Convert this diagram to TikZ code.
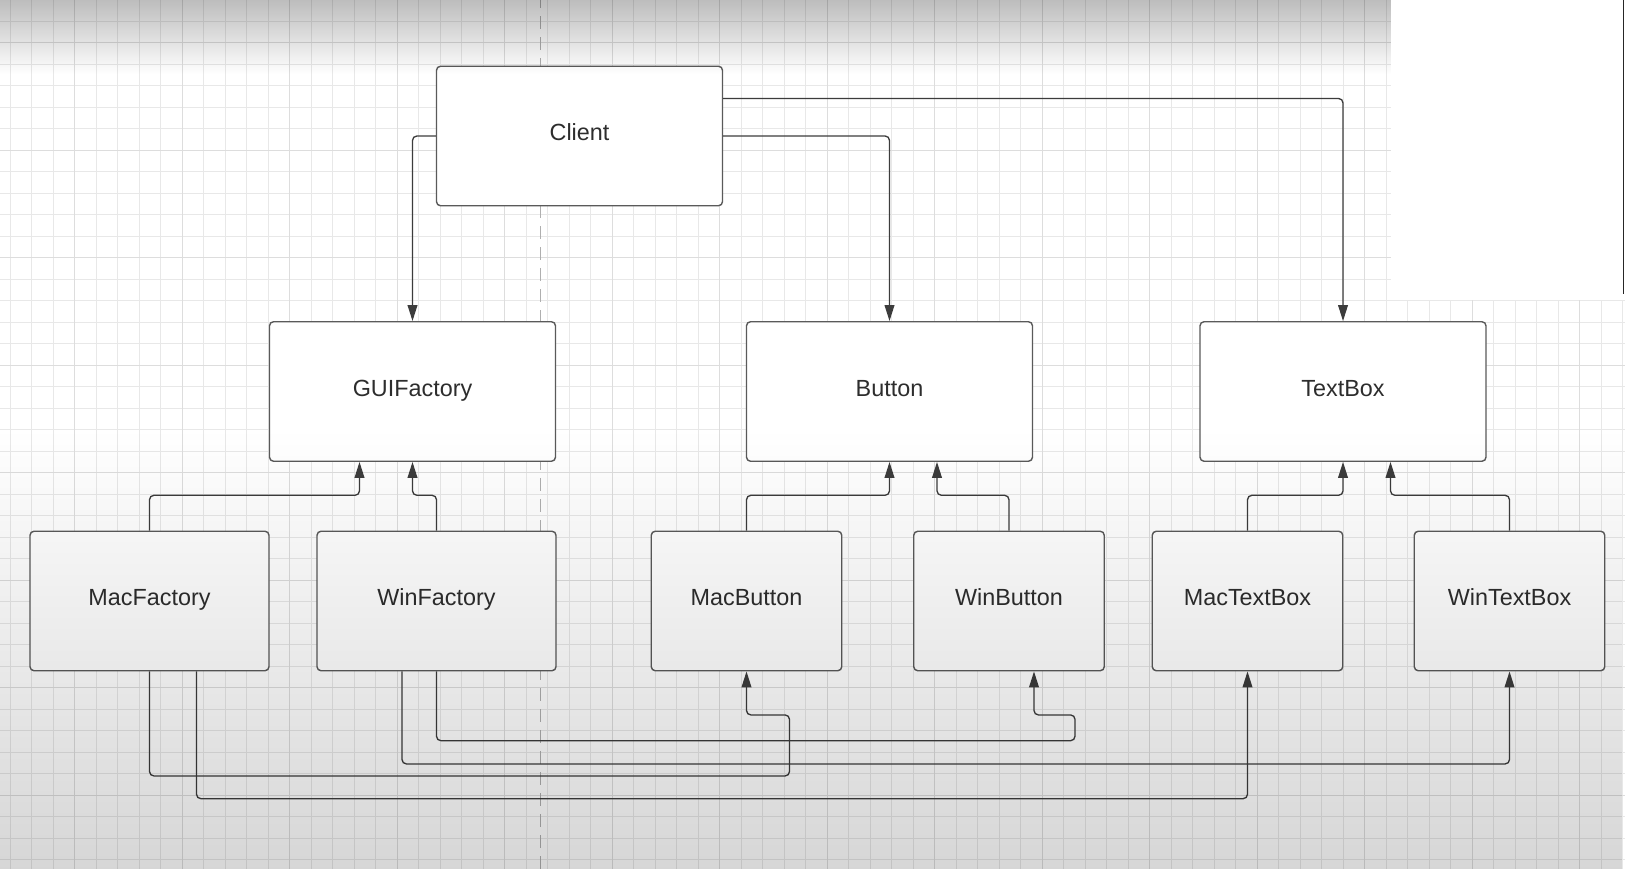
\documentclass[tikz,border=0pt]{standalone}
\usepackage{fontspec}
\setmainfont{Liberation Sans}
\usetikzlibrary{arrows.meta,fadings}

\definecolor{linegray}{RGB}{60,60,60}
\definecolor{boxgray}{RGB}{90,90,90}
\definecolor{textgray}{RGB}{45,45,45}
\definecolor{minorgray}{RGB}{232,232,232}
\definecolor{majorgray}{RGB}{221,221,221}
\definecolor{guidegray}{RGB}{175,175,175}

\tikzfading[name=topfade, top color=transparent!74, bottom color=transparent!100]
\tikzfading[name=botfade, top color=transparent!100, bottom color=transparent!84]

\begin{document}
\begin{tikzpicture}[cls/.style={draw=boxgray,fill=white,line width=0.8pt,rounded corners=2.3pt,inner sep=0pt,minimum height=2.79cm,text=textgray,text height=0.73em,text depth=0.21em,font=\fontsize{13.3}{16}\selectfont},
    wide/.style={cls,minimum width=5.72cm},
    mid/.style={cls,minimum width=4.78cm},
    small/.style={cls,minimum width=3.81cm},
    conn/.style={draw=linegray,line width=0.75pt,rounded corners=2.5pt,-{Triangle[length=9pt,width=5.5pt]}}]
        \useasboundingbox (0,0) rectangle (32.5,17.38);
        \fill[white] (0,0) rectangle (32.5,17.38);
        \draw[minorgray,line width=0.5pt,shift={(0.2,0.19)}] (-0.2,-0.19) grid[step=0.43] (32.3,17.19);
        \draw[majorgray,line width=0.5pt,shift={(1.49,16.53)}] (-1.49,-16.53) grid[step=2.15] (31.01,0.85);
        \draw[guidegray,line width=0.8pt,dash pattern=on 0.26cm off 0.16cm] (10.81,0) -- (10.81,17.38);
        \node[wide] (client) at (11.59,14.66) {Client};
        \node[wide] (guif) at (8.25,9.55) {GUIFactory};
        \node[wide] (butt) at (17.79,9.55) {Button};
        \node[wide] (tbox) at (26.86,9.55) {TextBox};
        \node[mid] (macf) at (2.99,5.36) {MacFactory};
        \node[mid] (winf) at (8.73,5.36) {WinFactory};
        \node[small] (macb) at (14.93,5.36) {MacButton};
        \node[small] (winb) at (20.18,5.36) {WinButton};
        \node[small] (mact) at (24.95,5.36) {MacTextBox};
        \node[small] (wint) at (30.19,5.36) {WinTextBox};
        \draw[conn] (client.west) -| (guif.north);
        \draw[conn] (client.east) -| (butt.north);
        \draw[conn] ([yshift=0.75cm]client.east) -| (tbox.north);
        \foreach \a/\b/\s in {macf/guif/-1.06,winf/guif/0,macb/butt/0,winb/butt/0.95,mact/tbox/0,wint/tbox/0.95}
            \draw[conn] (\a.north) -- ++(0,0.705) -| ([xshift=\s cm]\b.south);
        \draw[conn] (macf.south) |- ++(12.8,-2.09) |- ([yshift=-0.87cm]macb.south) -- (macb.south);
        \draw[conn] (winf.south) |- ++(12.77,-1.385) |- ([xshift=0.5cm,yshift=-0.87cm]winb.south) -- ([xshift=0.5cm]winb.south);
        \draw[conn] ([xshift=0.94cm]macf.south) -- ++(0,-2.545) -| (mact.south);
        \draw[conn] ([xshift=-0.69cm]winf.south) -- ++(0,-1.85) -| (wint.south);
        \fill[black,path fading=topfade] (0,15.9) rectangle (32.5,17.38);
        \fill[black,path fading=botfade] (0,0) rectangle (32.5,8.8);
        \fill[white] (27.81,11.38) rectangle (32.5,17.38);
        \draw[black!85,line width=0.9pt] (32.47,11.5) -- (32.47,17.38);
      \end{tikzpicture}
\end{document}
